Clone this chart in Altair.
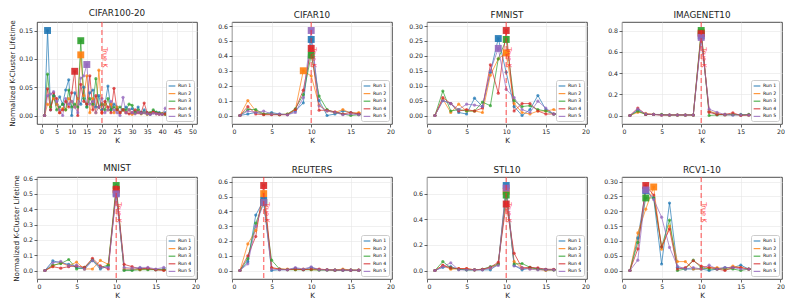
import altair as alt
import pandas as pd

RUNS = ["Run 1", "Run 2", "Run 3", "Run 4", "Run 5"]
COLORS = ["#1f77b4", "#ff7f0e", "#2ca02c", "#d62728", "#9467bd"]

NAMES = ["CIFAR100-20", "CIFAR10", "FMNIST", "IMAGENET10",
         "MNIST", "REUTERS", "STL10", "RCV1-10"]
TRUE_K = [20, 10, 10, 10, 10, 4, 10, 10]

cifar100_r1 = [0, 0.150, 0.010, 0.035, 0.020, 0.033, 0.020, 0.045, 0.063, 0.000,
               0.040, 0.030, 0.020, 0.050, 0.015, 0.040, 0.045, 0.015, 0.035, 0.010,
               0.020, 0.052, 0.010, 0.020, 0.015, 0.005, 0.010, 0.015, 0.010, 0.012,
               0.005, 0.015, 0.005, 0.010, 0.005, 0.002, 0.008, 0.005, 0.005, 0.003,
               0.005, 0.002, 0.003, 0.002, 0.002, 0.001, 0.001, 0.001, 0.000]
cifar100_r2 = [0, 0.020, 0.015, 0.030, 0.020, 0.005, 0.012, 0.010, 0.030, 0.025,
               0.015, 0.030, 0.107, 0.035, 0.070, 0.005, 0.030, 0.005, 0.080, 0.005,
               0.020, 0.010, 0.020, 0.005, 0.015, 0.005, 0.010, 0.005, 0.010, 0.002,
               0.004, 0.008, 0.003, 0.005, 0.002, 0.004, 0.006, 0.003, 0.002, 0.004,
               0.002, 0.003, 0.001, 0.002, 0.001, 0.001, 0.001, 0.000, 0.000]
cifar100_r3 = [0, 0.073, 0.015, 0.035, 0.010, 0.015, 0.020, 0.010, 0.045, 0.015,
               0.020, 0.015, 0.132, 0.030, 0.015, 0.030, 0.020, 0.065, 0.015, 0.020,
               0.010, 0.030, 0.010, 0.015, 0.010, 0.015, 0.010, 0.010, 0.020, 0.018,
               0.005, 0.010, 0.004, 0.006, 0.003, 0.005, 0.010, 0.006, 0.004, 0.003,
               0.002, 0.004, 0.002, 0.001, 0.002, 0.001, 0.001, 0.000, 0.000]
cifar100_r4 = [0, 0.047, 0.010, 0.040, 0.030, 0.005, 0.010, 0.025, 0.015, 0.040,
               0.078, 0.000, 0.055, 0.025, 0.020, 0.070, 0.010, 0.035, 0.015, 0.005,
               0.025, 0.015, 0.005, 0.048, 0.010, 0.005, 0.010, 0.005, 0.003, 0.005,
               0.010, 0.005, 0.005, 0.022, 0.005, 0.003, 0.006, 0.004, 0.003, 0.002,
               0.003, 0.002, 0.001, 0.002, 0.001, 0.001, 0.000, 0.001, 0.000]
cifar100_r5 = [0, 0.035, 0.038, 0.042, 0.025, 0.010, 0.000, 0.030, 0.020, 0.025,
               0.015, 0.005, 0.066, 0.070, 0.090, 0.020, 0.025, 0.005, 0.015, 0.030,
               0.005, 0.010, 0.025, 0.010, 0.005, 0.000, 0.032, 0.005, 0.010, 0.005,
               0.003, 0.006, 0.004, 0.005, 0.003, 0.002, 0.004, 0.003, 0.002, 0.002,
               0.013, 0.002, 0.001, 0.001, 0.001, 0.000, 0.001, 0.000, 0.000]

cifar10_r1 = [0, 0.010, 0.020, 0.010, 0.020, 0.010, 0.005, 0.030, 0.085, 0.510, 0.100, 0.000, 0.010, 0.030, 0.020, 0.010, 0.010, 0.005, 0.000]
cifar10_r2 = [0, 0.100, 0.030, 0.010, 0.010, 0.005, 0.010, 0.040, 0.300, 0.265, 0.070, 0.030, 0.020, 0.040, 0.015, 0.020, 0.010, 0.010, 0.005]
cifar10_r3 = [0, 0.040, 0.040, 0.010, 0.010, 0.005, 0.010, 0.045, 0.140, 0.405, 0.130, 0.040, 0.020, 0.010, 0.000, 0.005, 0.010, 0.005, 0.000]
cifar10_r4 = [0, 0.060, 0.010, 0.005, 0.005, 0.005, 0.005, 0.040, 0.170, 0.450, 0.035, 0.035, 0.025, 0.010, 0.020, 0.010, 0.005, 0.005, 0.000]
cifar10_r5 = [0, 0.030, 0.020, 0.030, 0.010, 0.010, 0.005, 0.020, 0.120, 0.570, 0.065, 0.030, 0.020, 0.005, 0.010, 0.005, 0.005, 0.000, 0.000]

fmnist_r1 = [0, 0.050, 0.040, 0.010, 0.005, 0.058, 0.030, 0.145, 0.258, 0.145, 0.030, 0.000, 0.020, 0.067, 0.020, 0.005, 0.005, 0.000, 0.000]
fmnist_r2 = [0, 0.055, 0.010, 0.038, 0.015, 0.015, 0.010, 0.135, 0.190, 0.210, 0.040, 0.010, 0.005, 0.015, 0.015, 0.020, 0.010, 0.005, 0.000]
fmnist_r3 = [0, 0.082, 0.015, 0.020, 0.015, 0.015, 0.045, 0.033, 0.190, 0.255, 0.050, 0.030, 0.033, 0.020, 0.015, 0.005, 0.005, 0.000, 0.000]
fmnist_r4 = [0, 0.060, 0.040, 0.015, 0.020, 0.015, 0.025, 0.170, 0.075, 0.285, 0.015, 0.040, 0.040, 0.015, 0.005, 0.005, 0.005, 0.000, 0.000]
fmnist_r5 = [0, 0.050, 0.040, 0.020, 0.038, 0.035, 0.030, 0.150, 0.225, 0.088, 0.060, 0.020, 0.010, 0.048, 0.025, 0.005, 0.005, 0.000, 0.000]

imagenet_r1 = [0, 0.050, 0.010, 0.010, 0.005, 0.005, 0.005, 0.005, 0.005, 0.750, 0.040, 0.010, 0.005, 0.005, 0.010, 0.005, 0.005, 0.000, 0.000]
imagenet_r2 = [0, 0.030, 0.020, 0.010, 0.005, 0.005, 0.005, 0.005, 0.005, 0.780, 0.040, 0.020, 0.005, 0.010, 0.005, 0.005, 0.005, 0.000, 0.000]
imagenet_r3 = [0, 0.040, 0.010, 0.010, 0.010, 0.005, 0.005, 0.005, 0.005, 0.800, 0.000, 0.005, 0.010, 0.010, 0.005, 0.010, 0.005, 0.000, 0.000]
imagenet_r4 = [0, 0.070, 0.010, 0.010, 0.005, 0.005, 0.005, 0.005, 0.005, 0.770, 0.030, 0.010, 0.010, 0.025, 0.000, 0.005, 0.005, 0.000, 0.000]
imagenet_r5 = [0, 0.060, 0.015, 0.010, 0.005, 0.005, 0.005, 0.005, 0.005, 0.735, 0.060, 0.030, 0.010, 0.005, 0.005, 0.005, 0.005, 0.000, 0.000]

mnist_r1 = [0, 0.063, 0.050, 0.040, 0.020, 0.010, 0.065, 0.010, 0.030, 0.505, 0.005, 0.005, 0.015, 0.010, 0.005, 0.010, 0.005, 0.005, 0.000]
mnist_r2 = [0, 0.030, 0.050, 0.030, 0.055, 0.010, 0.010, 0.066, 0.040, 0.525, 0.010, 0.010, 0.005, 0.010, 0.005, 0.005, 0.000, 0.000, 0.000]
mnist_r3 = [0, 0.035, 0.045, 0.072, 0.010, 0.020, 0.070, 0.020, 0.035, 0.555, 0.000, 0.000, 0.005, 0.005, 0.005, 0.005, 0.005, 0.000, 0.000]
mnist_r4 = [0, 0.025, 0.015, 0.025, 0.030, 0.020, 0.080, 0.030, 0.010, 0.530, 0.040, 0.025, 0.010, 0.015, 0.005, 0.000, 0.005, 0.000, 0.000]
mnist_r5 = [0, 0.050, 0.060, 0.030, 0.035, 0.010, 0.065, 0.020, 0.020, 0.500, 0.020, 0.015, 0.020, 0.020, 0.010, 0.020, 0.010, 0.005, 0.000]

reuters_r1 = [0, 0.060, 0.375, 0.475, 0.000, 0.005, 0.005, 0.015, 0.005, 0.020, 0.005, 0.005, 0.002, 0.003, 0.002, 0.002, 0.001, 0.001, 0.000]
reuters_r2 = [0, 0.180, 0.270, 0.520, 0.015, 0.010, 0.010, 0.005, 0.010, 0.005, 0.005, 0.005, 0.003, 0.010, 0.003, 0.002, 0.002, 0.001, 0.000]
reuters_r3 = [0, 0.080, 0.320, 0.460, 0.070, 0.010, 0.005, 0.005, 0.005, 0.005, 0.003, 0.003, 0.002, 0.002, 0.002, 0.001, 0.001, 0.000, 0.000]
reuters_r4 = [0, 0.100, 0.230, 0.575, 0.020, 0.010, 0.005, 0.010, 0.005, 0.010, 0.010, 0.005, 0.003, 0.003, 0.002, 0.002, 0.001, 0.001, 0.000]
reuters_r5 = [0, 0.045, 0.300, 0.460, 0.010, 0.005, 0.005, 0.020, 0.010, 0.025, 0.005, 0.004, 0.003, 0.002, 0.002, 0.001, 0.001, 0.000, 0.000]

stl_r1 = [0, 0.025, 0.030, 0.010, 0.005, 0.005, 0.005, 0.005, 0.050, 0.665, 0.040, 0.005, 0.020, 0.015, 0.010, 0.005, 0.005, 0.002, 0.000]
stl_r2 = [0, 0.040, 0.010, 0.015, 0.015, 0.005, 0.010, 0.020, 0.050, 0.620, 0.070, 0.020, 0.015, 0.010, 0.000, 0.005, 0.005, 0.002, 0.000]
stl_r3 = [0, 0.070, 0.020, 0.010, 0.005, 0.005, 0.010, 0.030, 0.050, 0.590, 0.050, 0.055, 0.025, 0.010, 0.005, 0.005, 0.003, 0.002, 0.000]
stl_r4 = [0, 0.040, 0.020, 0.015, 0.015, 0.005, 0.010, 0.025, 0.065, 0.520, 0.135, 0.020, 0.025, 0.020, 0.010, 0.010, 0.005, 0.002, 0.000]
stl_r5 = [0, 0.030, 0.060, 0.005, 0.005, 0.005, 0.005, 0.020, 0.040, 0.645, 0.035, 0.020, 0.010, 0.005, 0.005, 0.005, 0.003, 0.002, 0.000]

rcv_r1 = [0, 0.110, 0.270, 0.245, 0.022, 0.228, 0.010, 0.005, 0.005, 0.005, 0.000, 0.005, 0.010, 0.010, 0.018, 0.005, 0.005, 0.002, 0.000]
rcv_r2 = [0, 0.127, 0.207, 0.282, 0.072, 0.150, 0.030, 0.030, 0.005, 0.005, 0.010, 0.010, 0.005, 0.015, 0.010, 0.005, 0.003, 0.002, 0.000]
rcv_r3 = [0, 0.095, 0.245, 0.245, 0.080, 0.170, 0.000, 0.005, 0.035, 0.010, 0.005, 0.005, 0.005, 0.005, 0.000, 0.005, 0.003, 0.002, 0.000]
rcv_r4 = [0, 0.073, 0.287, 0.255, 0.080, 0.140, 0.005, 0.010, 0.033, 0.015, 0.010, 0.005, 0.000, 0.010, 0.010, 0.005, 0.003, 0.002, 0.000]
rcv_r5 = [0, 0.035, 0.272, 0.240, 0.180, 0.078, 0.015, 0.005, 0.010, 0.005, 0.018, 0.005, 0.010, 0.010, 0.005, 0.005, 0.003, 0.002, 0.000]

SERIES = {
    "CIFAR100-20": [cifar100_r1, cifar100_r2, cifar100_r3, cifar100_r4, cifar100_r5],
    "CIFAR10": [cifar10_r1, cifar10_r2, cifar10_r3, cifar10_r4, cifar10_r5],
    "FMNIST": [fmnist_r1, fmnist_r2, fmnist_r3, fmnist_r4, fmnist_r5],
    "IMAGENET10": [imagenet_r1, imagenet_r2, imagenet_r3, imagenet_r4, imagenet_r5],
    "MNIST": [mnist_r1, mnist_r2, mnist_r3, mnist_r4, mnist_r5],
    "REUTERS": [reuters_r1, reuters_r2, reuters_r3, reuters_r4, reuters_r5],
    "STL10": [stl_r1, stl_r2, stl_r3, stl_r4, stl_r5],
    "RCV1-10": [rcv_r1, rcv_r2, rcv_r3, rcv_r4, rcv_r5],
}

Y_TICKS = {
    "CIFAR100-20": ([0, 0.05, 0.10, 0.15], ".2f"),
    "CIFAR10": ([0, 0.1, 0.2, 0.3, 0.4, 0.5, 0.6], ".1f"),
    "FMNIST": ([0, 0.05, 0.10, 0.15, 0.20, 0.25, 0.30], ".2f"),
    "IMAGENET10": ([0, 0.2, 0.4, 0.6, 0.8], ".1f"),
    "MNIST": ([0, 0.1, 0.2, 0.3, 0.4, 0.5, 0.6], ".1f"),
    "REUTERS": ([0, 0.1, 0.2, 0.3, 0.4, 0.5, 0.6], ".1f"),
    "STL10": ([0, 0.2, 0.4, 0.6], ".1f"),
    "RCV1-10": ([0, 0.05, 0.10, 0.15, 0.20, 0.25, 0.30], ".2f"),
}

PW, PH = 160, 102


def panel(idx):
    name = NAMES[idx]
    tk = TRUE_K[idx]
    rows = []
    for run, vals in zip(RUNS, SERIES[name]):
        for i, v in enumerate(vals):
            rows.append({"K": i + 1, "value": v, "Run": run})
    df = pd.DataFrame(rows)
    mx = df.loc[df.groupby("Run")["value"].idxmax()]
    ymax = df["value"].max()
    if name == "CIFAR100-20":
        xd, xt = [-1.5, 51.5], list(range(0, 51, 5))
    else:
        xd, xt = [0, 20.2], [0, 5, 10, 15, 20]
    yt, yf = Y_TICKS[name]
    ytitle = "Normalized K-Cluster Lifetime" if idx % 4 == 0 else None

    x = alt.X("K:Q", scale=alt.Scale(domain=xd, nice=False, zero=False),
              axis=alt.Axis(values=xt, title="K", format="d"))
    y = alt.Y("value:Q", scale=alt.Scale(domain=[-0.1 * ymax, 1.1 * ymax], nice=False, zero=False),
              axis=alt.Axis(values=yt, format=yf, title=ytitle))
    color = alt.Color("Run:N", scale=alt.Scale(domain=RUNS, range=COLORS),
                      legend=alt.Legend(title=None, orient="bottom-right", offset=3,
                                        fillColor="white", strokeColor="#cccccc",
                                        padding=2, cornerRadius=2, labelFontSize=4.6,
                                        symbolType="stroke", symbolSize=45,
                                        symbolStrokeWidth=1.2, rowPadding=0.6,
                                        labelOffset=2, symbolOpacity=0.8))

    base = alt.Chart(df).encode(x=x, y=y, color=color)
    lines = base.mark_line(strokeWidth=1, opacity=0.7)
    pts = base.mark_circle(size=10, opacity=0.75)
    sq = alt.Chart(mx).mark_square(size=48, opacity=0.9).encode(x=x, y=y, color=color)
    rdf = pd.DataFrame({"K": [tk], "value": [0.82 * ymax], "t": ["True K"]})
    rule = alt.Chart(rdf).mark_rule(color="#ff2a2a", strokeDash=[5, 3], opacity=0.6,
                                    strokeWidth=1.4).encode(x=x)
    txt = alt.Chart(rdf).mark_text(angle=90, align="left", baseline="bottom", dx=1.5,
                                   color="#ff2a2a", fontSize=6.5, opacity=0.85).encode(
        x=x, y=y, text="t:N")
    return alt.layer(lines, pts, sq, rule, txt).properties(
        width=PW, height=PH, title=name)


panels = [panel(i) for i in range(8)]
chart = alt.concat(*panels, columns=4, spacing={"row": 53, "column": 35},
                   bounds="flush").resolve_scale(
    color="independent").resolve_legend(color="independent").properties(
    padding={"left": 0, "top": 0, "right": 0, "bottom": 0}
).configure(font="DejaVu Sans").configure_view(
    stroke="#222222", strokeWidth=0.8
).configure_axis(
    grid=True, gridColor="#e6e6e6", gridWidth=0.6, domain=False,
    tickColor="#222222", tickSize=3, tickWidth=0.7, labelOverlap=False,
    labelFontSize=6.2, labelColor="#222222", labelPadding=1.5,
    titleFontSize=7.2, titleFontWeight="normal", titleColor="#222222", titlePadding=2,
    labelFont="DejaVu Sans", titleFont="DejaVu Sans"
).configure_title(
    fontSize=8.8, fontWeight="normal", offset=2, font="DejaVu Sans", color="#222222"
).configure_legend(labelFont="DejaVu Sans")

chart.save("out.html", embed_options={"renderer": "svg", "actions": False})
